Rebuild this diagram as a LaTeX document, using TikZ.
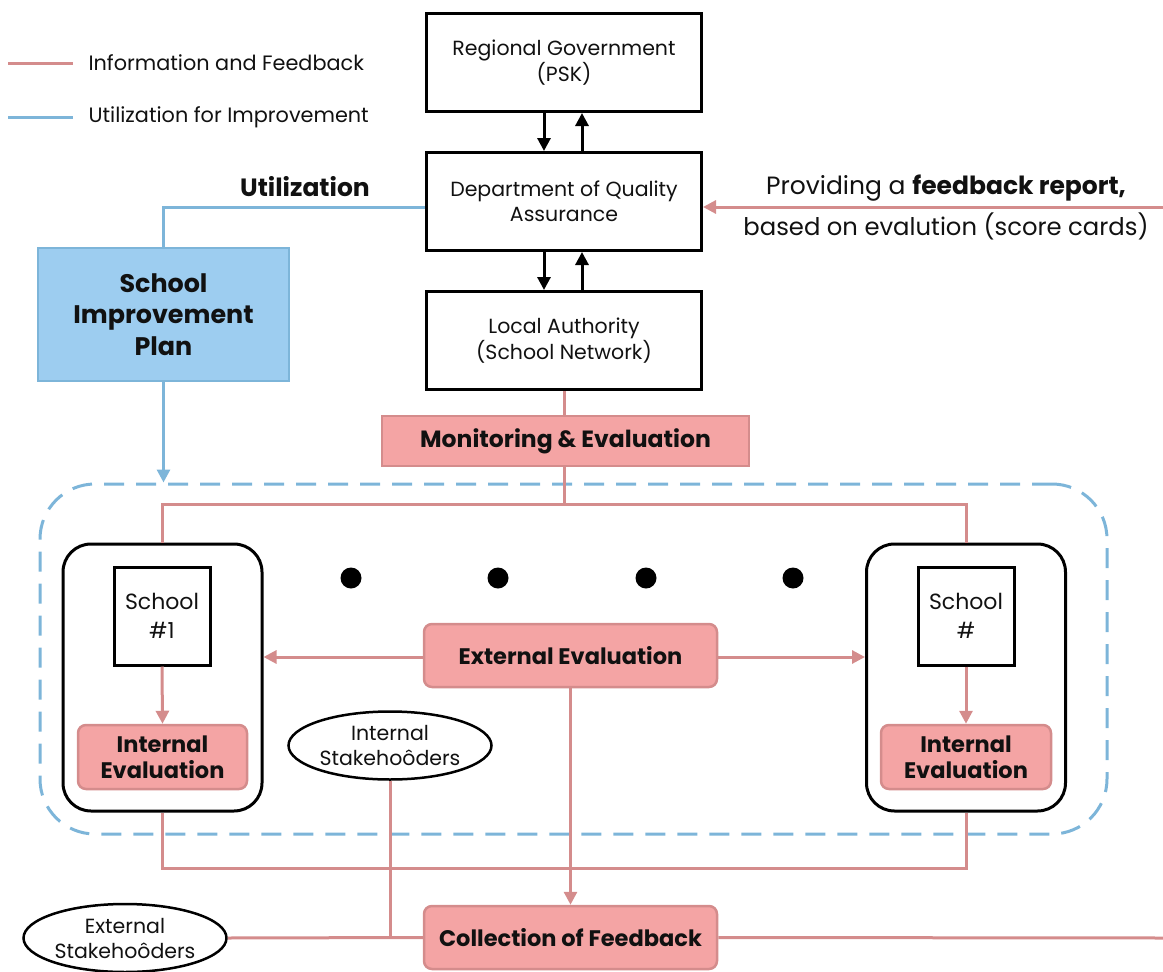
\documentclass[tikz,border=0pt]{standalone}
\usepackage{fontspec}
\setmainfont{Poppins}
\usetikzlibrary{arrows.meta,shapes.geometric,calc}
\definecolor{pinkline}{HTML}{D48C8C}
\definecolor{pinkfill}{HTML}{F4A4A4}
\definecolor{blueline}{HTML}{7DB5D9}
\definecolor{bluefill}{HTML}{9DCDF0}
\definecolor{ink}{HTML}{111111}
\newcommand{\fs}[2]{\fontsize{#1}{#2}\selectfont}
\begin{document}
\begin{tikzpicture}[x=1pt,y=-1pt,
  every node/.style={text=ink},
  govbox/.style={draw=black,line width=3pt,minimum width=275pt,minimum height=98pt,align=center,font=\fs{20.5}{25.5}},
  pinkbox/.style={draw=pinkline,fill=pinkfill,line width=2.5pt,rounded corners=8pt,align=center,font=\bfseries\fs{22.5}{26}},
  schoolbox/.style={draw=black,line width=3pt,minimum width=96pt,minimum height=98pt,align=center,font=\fs{22}{29}},
  container/.style={draw=black,line width=3pt,rounded corners=28pt,minimum width=199pt,minimum height=267pt},
  stake/.style={draw=black,line width=2.5pt,ellipse,minimum width=203pt,minimum height=68pt,inner sep=0pt,align=center,font=\fs{20.5}{25}},
  pinkl/.style={draw=pinkline,line width=3pt},
  bluel/.style={draw=blueline,line width=3pt},
  parr/.style={-{Triangle[length=13pt,width=13pt]}},
  barr/.style={draw=black,line width=3pt,-{Triangle[length=13pt,width=13pt]}},
  dot/.style={circle,fill=black,minimum size=21pt,inner sep=0pt}
]
\useasboundingbox (0,0) rectangle (1163,972);

% legend
\coordinate (l1a) at (8,63);
\coordinate (l1b) at (73,63);
\coordinate (l2a) at (8,117);
\coordinate (l2b) at (73,117);
\draw[pinkl] (l1a) -- (l1b);
\draw[bluel] (l2a) -- (l2b);
\node[anchor=west,font=\fs{20.8}{24}] (lt1) at (85,63) {Information and Feedback};
\node[anchor=west,font=\fs{20.8}{24}] (lt2) at (85,117) {Utilization for Improvement};

% government chain
\node[govbox] (rg) at (564,62.5) {Regional Government\\(PSK)};
\node[govbox] (dqa) at (564,201.5) {Department of Quality\\Assurance};
\node[govbox] (la) at (564,340.5) {Local Authority\\(School Network)};

\draw[barr] ([xshift=-20pt]rg.south) -- ([xshift=-20pt]dqa.north);
\draw[barr] ([xshift=18pt]dqa.north) -- ([xshift=18pt]rg.south);
\draw[barr] ([xshift=-20pt]dqa.south) -- ([xshift=-20pt]la.north);
\draw[barr] ([xshift=18pt]la.north) -- ([xshift=18pt]dqa.south);

% feedback report
\coordinate (fbin) at (1163,207);
\draw[pinkl,parr] (fbin) -- (dqa.east |- fbin);
\node[font=\fs{25}{30}] (fbt1) at (946,188) {Providing a \textbf{feedback report,}};
\node[font=\fs{24.3}{30}] (fbt2) at (946,226) {based on evalution (score cards)};

% utilization
\node[font=\bfseries\fs{25}{28}] (util) at (305,187) {Utilization};
\node[draw=blueline,fill=bluefill,line width=2.5pt,minimum width=251pt,minimum height=133pt,align=center,font=\bfseries\fs{25.4}{31.5}] (sip) at (163.5,314.5) {School\\Improvement\\Plan};
\draw[bluel] (dqa.west |- 0,207) -| (sip.north);

% dashed region
\node[draw=blueline,line width=3pt,dash pattern=on 20pt off 12pt,rounded corners=55pt,minimum width=1067pt,minimum height=350pt] (region) at (573.5,659) {};
\draw[bluel,parr] (sip.south) -- (sip.south |- region.north);

% monitoring
\node[pinkbox,minimum width=367pt,minimum height=50pt,rounded corners=0pt,font=\bfseries\fs{23.5}{26}] (me) at (565.5,441) {Monitoring \& Evaluation};
\draw[pinkl] (la.south) -- (la.south |- me.north);

% schools
\node[container] (lc) at (162.5,677.5) {};
\node[container] (rc) at (966,677.5) {};
\node[schoolbox] (s1) at (162,616) {School\\\#1};
\node[schoolbox] (sn) at (966,616) {School\\\#};
\node[pinkbox,minimum width=169pt,minimum height=64pt] (ie1) at (162.5,757) {Internal\\Evaluation};
\node[pinkbox,minimum width=170pt,minimum height=64pt] (ien) at (966,757) {Internal\\Evaluation};
\draw[pinkl,parr] (s1.south) -- (ie1.north);
\draw[pinkl,parr] (sn.south) -- (ien.north);

\coordinate (split) at (564,504);
\draw[pinkl] (me.south -| split) -- (split);
\draw[pinkl] (lc.north) |- (split) -| (rc.north);

\node[dot] (d1) at (351,578) {};
\node[dot] (d2) at (498,578) {};
\node[dot] (d3) at (646,578) {};
\node[dot] (d4) at (793,578) {};

% external evaluation
\node[pinkbox,minimum width=293pt,minimum height=63pt] (ee) at (570.5,655.5) {External Evaluation};
\draw[pinkl,parr] (ee.west |- 0,657) -- (lc.east |- 0,657);
\draw[pinkl,parr] (ee.east |- 0,657) -- (rc.west |- 0,657);

% stakeholders
\node[stake] (is) at (390,745.5) {Internal\\Stakehoôders};
\node[stake] (es) at (125,938) {External\\Stakehoôders};

% collection
\node[pinkbox,minimum width=293pt,minimum height=63pt] (cf) at (570.5,937.5) {Collection of Feedback};
\draw[pinkl,parr] (ee.south) -- (cf.north);
\coordinate (join) at (0,868);
\draw[pinkl] (lc.south) |- (rc.south |- join) -- (rc.south);
\draw[pinkl] (es.east) -- (cf.west);
\draw[pinkl] (is.south) -- (is.south |- cf.west);
\coordinate (fbout) at (1163,938);
\draw[pinkl] (cf.east) -- (fbout);
\end{tikzpicture}
\end{document}
